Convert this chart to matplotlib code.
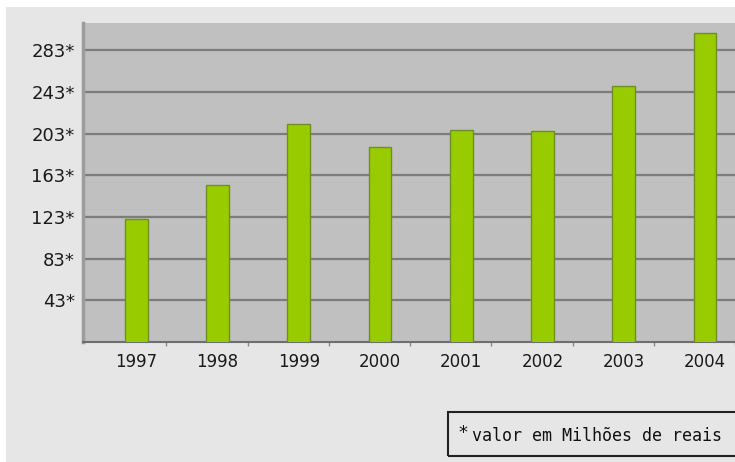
import matplotlib
matplotlib.use("Agg")
import matplotlib.pyplot as plt
from matplotlib.patches import Rectangle
import numpy as np

# Receita anual (milhões de reais)
anos = ["1997", "1998", "1999", "2000", "2001", "2002", "2003", "2004"]
valores = [121, 154, 212, 190, 206, 205, 249, 299]
marcas_y = [43, 83, 123, 163, 203, 243, 283]

W, H = 735, 462
fig = plt.figure(figsize=(W / 100, H / 100), dpi=100, facecolor="white")

# fundo cinza claro, com margem branca em cima e à esquerda
fig.patches.append(Rectangle((6 / W, 0), 1, 1 - 7 / H, transform=fig.transFigure,
                             facecolor="#e6e6e6", edgecolor="none", zorder=-10))

ax = fig.add_axes([83 / W, 1 - 342 / H, 1 - 83 / W, (342 - 23) / H])
ax.set_zorder(2)
ax.set_facecolor("#c0c0c0")

x = np.arange(len(anos))
ax.bar(x, valores, width=0.28, color="#99cc00", edgecolor="#6f8f20", linewidth=1.0, zorder=3)

ax.set_xlim(-0.656, 7.267)
ax.set_ylim(3, 309)

ax.set_yticks(marcas_y)
ax.set_yticklabels([f"{v}*" for v in marcas_y], fontsize=13, color="#1a1a1a")
ax.tick_params(axis="y", length=0, pad=6)
ax.yaxis.grid(True, color="#7c7c7c", linewidth=1.6, zorder=1)
ax.set_axisbelow(True)

ax.set_xticks(x)
ax.set_xticklabels(anos, fontsize=12, color="#1a1a1a")
ax.tick_params(axis="x", length=0, pad=8)
ax.set_xticks(x + 0.37, minor=True)
ax.tick_params(axis="x", which="minor", length=3, color="#8a8a8a", width=1)

for lado in ("top", "right"):
    ax.spines[lado].set_visible(False)
ax.spines["left"].set_color("#9c9c9c")
ax.spines["left"].set_linewidth(2.5)
ax.spines["bottom"].set_color("#6e6e6e")
ax.spines["bottom"].set_linewidth(1.5)

# caixa com a nota sobre a unidade
fig.patches.append(Rectangle((448 / W, 1 - 456 / H), 300 / W, 44 / H, transform=fig.transFigure,
                             facecolor="none", edgecolor="#222222", linewidth=1.5, zorder=5))
fig.text(458 / W, 1 - 433 / H, "*", fontsize=13, ha="left", va="center", color="#111111")
fig.text(472 / W, 1 - 436 / H, "valor em Milhões de reais", fontsize=12,
         family="DejaVu Sans Mono", ha="left", va="center", color="#111111")

fig.savefig("out.png", dpi=100, facecolor=fig.get_facecolor())
